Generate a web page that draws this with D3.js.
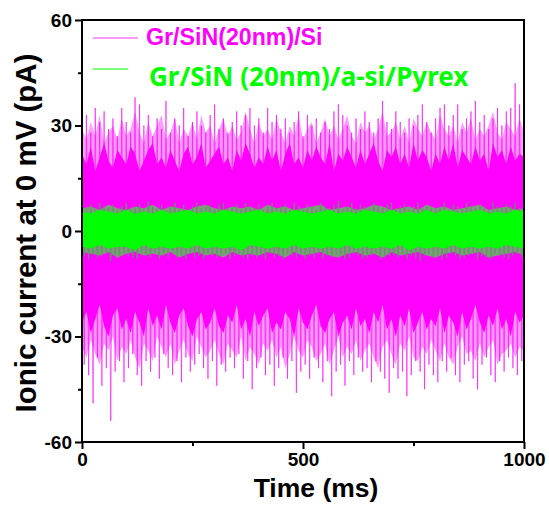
<!DOCTYPE html>
<html>
<head>
<meta charset="utf-8">
<script src="https://cdn.jsdelivr.net/npm/d3@7"></script>
<style>
  body { margin: 0; background: #fff; }
  svg { display: block; }
</style>
</head>
<body>
<div id="chart"></div>
<script>
// axis ticks
const yMajor = [-60, -30, 0, 30, 60];
const yMinor = [-45, -15, 15, 45];
const xMajor = [0, 500, 1000];
const xMinor = [250, 750];

// legend
const seriesNames = ["Gr/SiN(20nm)/Si", "Gr/SiN (20nm)/a-si/Pyrex"];

// magenta trace, peaks every 5 ms (pA), alternating up / down excursions
const magentaTrace = [
  30,-38,33,-41,28,-49,35,-36,31,-44,34,-39,29,-54,32,-40,27,-37,35,-43,
  31,-39,28,-35,38,-41,36,-44,30,-37,33,-40,27,-36,32,-42,29,-35,37,-39,
  28,-41,32,-37,30,-43,35,-36,27,-40,31,-38,34,-35,30,-39,28,-42,33,-37,
  36,-44,29,-38,32,-40,28,-36,31,-39,34,-35,30,-42,33,-37,35,-45,30,-39,
  32,-36,28,-41,35,-38,31,-44,33,-39,29,-36,32,-42,28,-37,31,-46,34,-40,
  27,-38,33,-42,30,-36,32,-39,28,-43,31,-37,29,-47,34,-40,36,-38,33,-44,
  30,-37,28,-41,32,-36,29,-40,34,-39,31,-43,28,-37,32,-40,37,-42,31,-46,
  29,-39,34,-42,31,-40,28,-47,32,-41,30,-37,33,-40,36,-45,31,-38,28,-41,
  32,-43,35,-37,36,-40,30,-36,33,-41,36,-43,29,-38,32,-37,34,-42,37,-45,
  31,-38,33,-36,29,-41,32,-43,35,-37,30,-40,34,-36,35,-39,42,-41,36,-37,
  32
];

// magenta band edges every 10 ms: light haze and dense core
const magentaHazeUp = [
  29,26,31,27,33,25,28,30,26,32, 27,29,34,28,25,31,27,30,33,26,
  28,32,25,29,27,31,26,33,28,30, 25,29,32,27,30,26,28,34,29,25,
  31,27,29,26,32,28,25,30,27,33, 26,29,31,25,28,32,27,30,26,29,
  33,27,25,31,28,30,26,29,34,27, 28,31,26,30,25,32,29,27,31,28,
  26,33,29,27,30,25,31,28,32,26, 29,27,30,34,28,26,31,29,27,32,
  28
];
const magentaHazeDown = [
  -33,-36,-31,-35,-38,-32,-34,-30,-37,-33, -35,-31,-36,-39,-32,-34,-37,-30,-33,-36,
  -32,-38,-34,-31,-35,-37,-30,-33,-36,-34, -31,-35,-38,-32,-34,-36,-30,-37,-33,-35,
  -38,-32,-34,-31,-36,-33,-39,-35,-30,-34, -36,-31,-33,-37,-35,-32,-38,-34,-30,-36,
  -33,-35,-31,-37,-34,-32,-36,-39,-33,-31, -35,-38,-32,-34,-30,-36,-37,-33,-35,-31,
  -34,-37,-32,-36,-38,-33,-30,-35,-34,-37, -32,-36,-33,-31,-38,-35,-34,-32,-36,-33,
  -34
];
const magentaCoreUp = [
  22,19,24,17,21,25,20,18,23,21, 19,24,22,17,20,23,25,19,21,18,
  23,20,17,22,24,19,21,25,18,20, 22,24,19,21,17,23,20,25,22,18,
  21,19,24,20,23,17,22,25,19,21, 18,23,20,24,21,19,25,17,22,20,
  24,21,18,23,19,22,25,20,17,23, 21,24,19,22,18,25,20,23,21,17,
  22,19,24,20,25,18,23,21,19,24, 20,22,17,25,21,23,19,24,20,22,
  21
];
const magentaCoreDown = [
  -26,-23,-29,-25,-21,-27,-30,-24,-22,-28, -25,-29,-23,-26,-30,-22,-27,-24,-28,-21,
  -26,-29,-24,-22,-27,-30,-25,-23,-28,-26, -22,-27,-29,-24,-26,-21,-28,-25,-30,-23,
  -27,-24,-22,-29,-26,-28,-23,-25,-30,-22, -26,-28,-24,-21,-27,-29,-25,-23,-30,-26,
  -24,-28,-22,-27,-25,-29,-23,-26,-21,-28, -25,-30,-24,-27,-22,-29,-26,-23,-28,-25,
  -27,-22,-29,-24,-26,-30,-23,-28,-25,-21, -26,-29,-24,-27,-22,-28,-25,-30,-23,-26,
  -24
];

// green trace, peaks every 5 ms
const greenTrace = [
  7,-7,6.5,-8,7.5,-6.5,6,-7.5,8,-7,7,-6.5,6.5,-8.5,7.5,-7,6,-7.5,7,-6.5,
  8,-7,6.5,-7.5,7,-8,7.5,-6.5,6,-7,8.5,-7.5,7,-6,6.5,-8,7.5,-7,6,-7.5,
  7,-6.5,8,-7.5,6.5,-7,7.5,-8,6,-6.5,7,-7.5,8,-7,6.5,-8,7,-6.5,7.5,-7,
  6,-7.5,7.5,-7,8,-6.5,6.5,-8,7,-7,7.5,-6.5,6,-7.5,8,-8,7,-7,6.5,-7.5,
  7.5,-7,6,-8,7,-6.5,8,-7.5,6.5,-7,7,-8,7.5,-6.5,6,-7,8,-7.5,7,-6.5,
  6.5,-8,7.5,-7,7,-7.5,6,-6.5,8,-8,7,-7,6.5,-7.5,7.5,-6.5,8.5,-7,6,-8,
  7,-7.5,8,-6.5,6.5,-7,7.5,-8,7,-7.5,6,-7,8,-6.5,7,-8,6.5,-7.5,7.5,-7,
  8,-7,6.5,-7.5,7,-6.5,7.5,-8,6,-7,7,-7.5,8,-8.5,6.5,-7,7.5,-6.5,7,-7.5,
  6.5,-7,7,-8,8,-7.5,6,-6.5,7.5,-7,7,-8,6.5,-7.5,8,-7,7,-6.5,6.5,-8,
  7.5,-7,7,-7.5,6,-8,8,-6.5,7,-7,6.5,-7.5,7.5,-8,7,-7,8,-6.5,6.5,-7.5,
  7
];

// green band edges every 20 ms: darker fringe and bright core
const greenHazeUp = [
  6.5,7,6,7.5,6.5,6,7,6.5,7.5,6, 7,6.5,6,7,7.5,6.5,6,7,6.5,7,
  6,7.5,6.5,7,6,6.5,7,7.5,6,6.5, 7,6,6.5,7.5,7,6,6.5,7,6,7.5,
  6.5,7,6,6.5,7,7.5,6,6.5,7,6, 6.5
];
const greenHazeDown = [
  -6,-6.5,-7,-6,-7.5,-6.5,-6,-7,-6.5,-7, -6,-7.5,-6.5,-6,-7,-6.5,-7.5,-6,-7,-6.5,
  -7,-6,-6.5,-7.5,-6,-7,-6.5,-6,-7,-7.5, -6.5,-6,-7,-6.5,-7.5,-6,-7,-6.5,-6,-7,
  -7.5,-6.5,-6,-7,-6.5,-6,-7.5,-7,-6.5,-6, -7
];
const greenCoreUp = [
  5.5,5,6,5.5,5,6,5,5.5,5,6, 5,5.5,6,5,5.5,5,6,5.5,5,5.5,
  6,5,5.5,5,6,5.5,5,5.5,6,5, 5.5,5,6,5.5,5,6,5,5.5,5,6,
  5,6,5.5,5,5.5,6,5,5.5,5,6, 5.5
];
const greenCoreDown = [
  -4.5,-5,-4,-5,-4.5,-4.5,-5.5,-4,-5,-4.5, -5,-4.5,-5,-4,-5,-4.5,-5,-4.5,-5.5,-4,
  -4.5,-5,-4.5,-5,-4,-5,-4.5,-5,-4.5,-5, -4,-5,-4.5,-5,-4.5,-5,-4,-5.5,-4.5,-5,
  -4.5,-5,-4,-5,-4.5,-5,-4.5,-5,-4,-4.5, -5
];

const width = 549;
const height = 505;
const marginTop = 20;
const marginRight = 25;
const marginBottom = 63;
const marginLeft = 82;

const x = d3.scaleLinear()
  .domain([0, 1000])
  .range([marginLeft, width - marginRight]);

const y = d3.scaleLinear()
  .domain([-60, 60])
  .range([height - marginBottom, marginTop]);

const svg = d3.select("#chart")
  .append("svg")
  .attr("width", width)
  .attr("height", height)
  .attr("font-family", "'Liberation Sans', Arial, sans-serif")
  .attr("font-weight", "bold");

svg.append("clipPath").attr("id", "plot")
  .append("rect")
  .attr("x", marginLeft).attr("y", marginTop)
  .attr("width", width - marginRight - marginLeft)
  .attr("height", height - marginBottom - marginTop);

// trace with samples every `step` ms
function trace(values, step) {
  return d3.line()
    .x((d, i) => x(i * step))
    .y(d => y(d))(values);
}

// band between two edges sampled every `step` ms
function band(up, down, step) {
  return d3.area()
    .x((d, i) => x(i * step))
    .y0((d, i) => y(down[i]))
    .y1(d => y(d))(up);
}

const traces = svg.append("g").attr("clip-path", "url(#plot)");

traces.append("path")
  .attr("d", band(magentaHazeUp, magentaHazeDown, 10))
  .attr("fill", "#ff9aff");

traces.append("path")
  .attr("d", trace(magentaTrace, 5))
  .attr("fill", "none")
  .attr("stroke", "#ff00ff")
  .attr("stroke-opacity", 0.6)
  .attr("stroke-width", 1);

traces.append("path")
  .attr("d", band(magentaCoreUp, magentaCoreDown, 10))
  .attr("fill", "#ff00ff");

traces.append("path")
  .attr("d", band(greenHazeUp, greenHazeDown, 20))
  .attr("fill", "#7f9a7f");

traces.append("path")
  .attr("d", trace(greenTrace, 5))
  .attr("fill", "none")
  .attr("stroke", "#5a9a5a")
  .attr("stroke-opacity", 0.9)
  .attr("stroke-width", 1.2);

traces.append("path")
  .attr("d", band(greenCoreUp, greenCoreDown, 20))
  .attr("fill", "#00ff00");

// frame
svg.append("rect")
  .attr("x", marginLeft).attr("y", marginTop)
  .attr("width", width - marginRight - marginLeft)
  .attr("height", height - marginBottom - marginTop)
  .attr("fill", "none")
  .attr("stroke", "black")
  .attr("stroke-width", 2);

// axes
svg.append("g")
  .attr("transform", `translate(${marginLeft},0)`)
  .call(d3.axisLeft(y).tickValues(yMajor).tickSize(7).tickPadding(3).tickFormat(d => String(d)))
  .call(g => g.select(".domain").remove());

svg.append("g")
  .attr("transform", `translate(${marginLeft},0)`)
  .call(d3.axisLeft(y).tickValues(yMinor).tickSize(4).tickFormat(""))
  .call(g => g.select(".domain").remove());

svg.append("g")
  .attr("transform", `translate(0,${height - marginBottom})`)
  .call(d3.axisBottom(x).tickValues(xMajor).tickSize(7).tickPadding(4).tickFormat(d => String(d)))
  .call(g => g.select(".domain").remove());

svg.append("g")
  .attr("transform", `translate(0,${height - marginBottom})`)
  .call(d3.axisBottom(x).tickValues(xMinor).tickSize(4).tickFormat(""))
  .call(g => g.select(".domain").remove());

svg.selectAll(".tick line").attr("stroke", "black").attr("stroke-width", 2);
svg.selectAll(".tick text")
  .attr("font-family", "'Liberation Sans', Arial, sans-serif")
  .attr("font-weight", "bold")
  .attr("font-size", 19)
  .attr("fill", "black");

// axis titles
svg.append("text")
  .attr("x", 316)
  .attr("y", 497)
  .attr("text-anchor", "middle")
  .attr("font-size", 26.5)
  .text("Time (ms)");

svg.append("text")
  .attr("transform", "translate(36,233) rotate(-90)")
  .attr("text-anchor", "middle")
  .attr("font-size", 29.5)
  .text("Ionic current at 0 mV (pA)");

// legend
const legend = svg.append("g");
legend.append("line")
  .attr("x1", 93).attr("x2", 138).attr("y1", 38).attr("y2", 38)
  .attr("stroke", "#ff00ff").attr("stroke-opacity", 0.4).attr("stroke-width", 2);
legend.append("text")
  .attr("x", 146).attr("y", 45)
  .attr("fill", "#ff00ff")
  .attr("font-size", 23.2)
  .text(seriesNames[0]);

legend.append("line")
  .attr("x1", 93).attr("x2", 128).attr("y1", 69).attr("y2", 69)
  .attr("stroke", "#00ff00").attr("stroke-opacity", 0.7).attr("stroke-width", 1.5);
legend.append("text")
  .attr("x", 149).attr("y", 86)
  .attr("fill", "#00ff00")
  .attr("font-family", "'Noto Sans', sans-serif")
  .attr("font-size", 26)
  .text(seriesNames[1]);
</script>
</body>
</html>
